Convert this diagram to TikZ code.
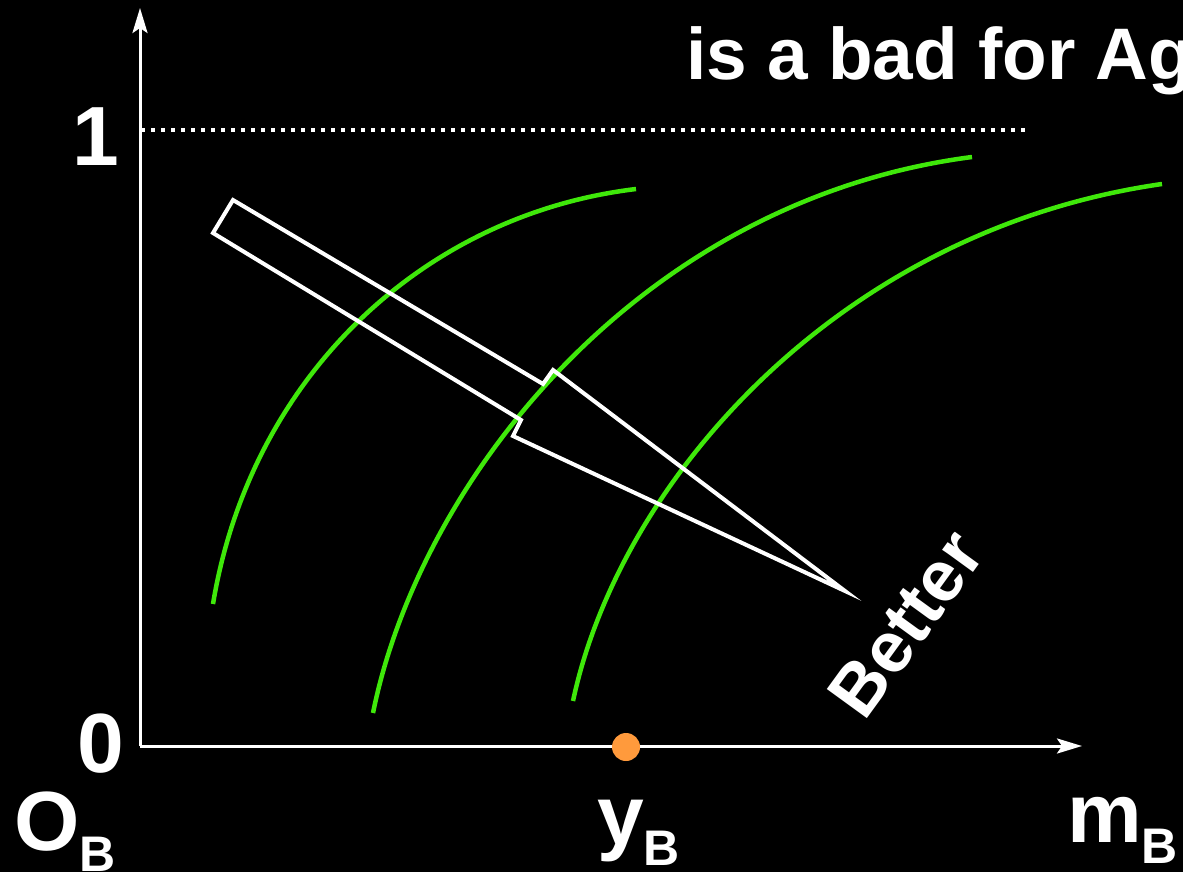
\documentclass[tikz,border=0pt]{standalone}
\usepackage{fontspec}
\setmainfont{Liberation Sans}
\usetikzlibrary{arrows.meta}
\definecolor{icgreen}{HTML}{3FE80A}
\definecolor{endoworange}{HTML}{FF9A3C}
\newcommand{\lowsub}[1]{\raisebox{-21pt}{\fontsize{50}{50}\selectfont #1}}

\begin{document}
\begin{tikzpicture}[
  x=1pt, y=-1pt,
  lab/.style={font=\fontsize{84}{84}\selectfont\bfseries, text=white, inner sep=0pt},
  ttl/.style={font=\fontsize{73}{73}\selectfont\bfseries, text=white, inner sep=0pt},
  axis/.style={white, line width=3pt, -{Stealth[length=25pt, width=15pt, inset=5pt]}},
  icurve/.style={icgreen, line width=4.5pt},
  better/.style={white, line width=4pt, line join=miter}
]
\fill[black] (0,0) rectangle (1183,872);
\useasboundingbox (0,0) rectangle (1183,872);

\node[ttl, anchor=base west] (title) at (686,80) {is a bad for Ag};

% axes
\coordinate (orig) at (140,746);
\coordinate (ytop) at (140,8);
\coordinate (xend) at (1082,746);
\draw[axis] (orig) -- (ytop);
\draw[axis] (orig) -- (xend);

% upper bound
\coordinate (one) at (141,130);
\coordinate (oneend) at (1030,130);
\draw[white, line width=4pt, dash pattern=on 4pt off 6pt] (one) -- (oneend);

\node[lab, anchor=base west] (lone) at (72,165) {1};
\node[lab, anchor=base west] (lzero) at (77,772) {0};
\node[lab, anchor=base west] (lorig) at (14,850) {O\lowsub{B}};
\node[lab, anchor=base west] (lyb) at (597,844) {y\lowsub{B}};
\node[lab, anchor=base west] (lmb) at (1067,842) {m\lowsub{B}};

% indifference curves
\draw[icurve] (213,604) .. controls (250,380) and (420,215) .. (636,189);
\draw[icurve] (373,713) .. controls (420,480) and (640,200) .. (972,157);
\draw[icurve] (573,701) .. controls (620,480) and (840,230) .. (1162,184);

% direction of preference
\draw[better] (233,200) -- (543,384) -- (553,370) -- (845,591)
  -- (513,436) -- (521,420) -- (213,233) -- cycle;
\node[lab, font=\fontsize{72}{72}\selectfont\bfseries, rotate=54] (lbetter) at (906,624) {Better};

% endowment
\fill[endoworange] (626,747) circle (14);
\end{tikzpicture}
\end{document}
